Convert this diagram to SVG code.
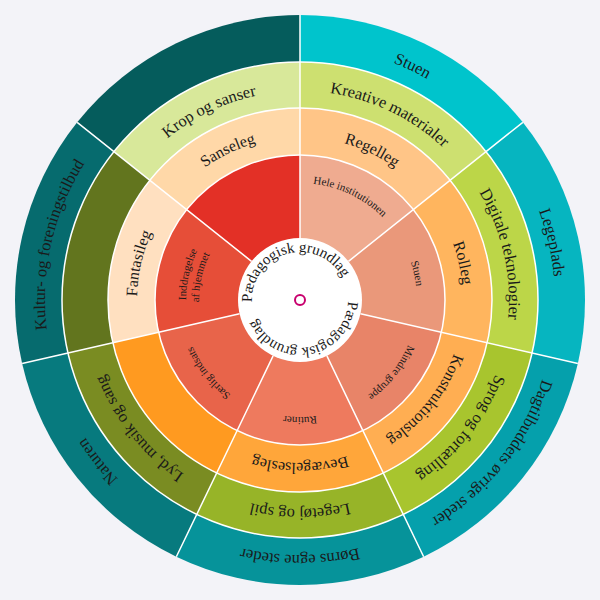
<svg xmlns="http://www.w3.org/2000/svg" xmlns:xlink="http://www.w3.org/1999/xlink" width="600" height="600" viewBox="0 0 600 600">
<style>
.t{font-family:"Liberation Serif","DejaVu Serif",serif;fill:#1a1a1a;text-anchor:middle}
.o{font-size:16.5px}.g{font-size:16.5px}.r{font-size:16px}.s{font-size:11px}.c{font-size:15px}
.sep{stroke:#fff;stroke-width:1.5;fill:none}
</style>
<defs>
<path id="c255" d="M300,45 A255,255 0 1 1 300,555 A255,255 0 1 1 300,45"/>
<path id="c209" d="M300,91 A209,209 0 1 1 300,509 A209,209 0 1 1 300,91"/>
<path id="c163" d="M300,137 A163,163 0 1 1 300,463 A163,163 0 1 1 300,137"/>
<path id="c117" d="M300,183 A117,117 0 1 1 300,417 A117,117 0 1 1 300,183"/>
<path id="c114" d="M300,186 A114,114 0 1 1 300,414 A114,114 0 1 1 300,186"/>
<path id="c101" d="M300,199 A101,101 0 1 1 300,401 A101,101 0 1 1 300,199"/>
<path id="c48" d="M252,300 A48,48 0 1 1 348,300 A48,48 0 1 1 252,300"/>
</defs>
<rect width="600" height="600" fill="#f3f3f8"/>
<g id="ring-outer">
<path d="M300,300 L300,15 A285,285 0 0 1 522.82,122.31Z" fill="#00c4cc"/>
<path d="M300,300 L522.82,122.31 A285,285 0 0 1 577.86,363.42Z" fill="#06b5c0"/>
<path d="M300,300 L577.86,363.42 A285,285 0 0 1 423.66,556.78Z" fill="#05a0ac"/>
<path d="M300,300 L423.66,556.78 A285,285 0 0 1 176.34,556.78Z" fill="#06939a"/>
<path d="M300,300 L176.34,556.78 A285,285 0 0 1 22.14,363.42Z" fill="#077a7e"/>
<path d="M300,300 L22.14,363.42 A285,285 0 0 1 77.18,122.31Z" fill="#066b6e"/>
<path d="M300,300 L77.18,122.31 A285,285 0 0 1 300,15Z" fill="#055c5c"/>
</g>
<g id="ring-green">
<path d="M300,300 L300,62 A238,238 0 0 1 486.08,151.61Z" fill="#cde070"/>
<path d="M300,300 L486.08,151.61 A238,238 0 0 1 532.03,352.96Z" fill="#bcd648"/>
<path d="M300,300 L532.03,352.96 A238,238 0 0 1 403.26,514.43Z" fill="#a8c52e"/>
<path d="M300,300 L403.26,514.43 A238,238 0 0 1 196.74,514.43Z" fill="#97b428"/>
<path d="M300,300 L196.74,514.43 A238,238 0 0 1 67.97,352.96Z" fill="#7a8c22"/>
<path d="M300,300 L67.97,352.96 A238,238 0 0 1 113.92,151.61Z" fill="#62751e"/>
<path d="M300,300 L113.92,151.61 A238,238 0 0 1 300,62Z" fill="#d8e89a"/>
</g>
<g id="ring-orange">
<path d="M300,300 L300,108 A192,192 0 0 1 450.11,180.29Z" fill="#ffc587"/>
<path d="M300,300 L450.11,180.29 A192,192 0 0 1 487.19,342.72Z" fill="#ffb55e"/>
<path d="M300,300 L487.19,342.72 A192,192 0 0 1 383.31,472.99Z" fill="#ffae52"/>
<path d="M300,300 L383.31,472.99 A192,192 0 0 1 216.69,472.99Z" fill="#ffa63a"/>
<path d="M300,300 L216.69,472.99 A192,192 0 0 1 112.81,342.72Z" fill="#ff9a20"/>
<path d="M300,300 L112.81,342.72 A192,192 0 0 1 149.89,180.29Z" fill="#ffe0c0"/>
<path d="M300,300 L149.89,180.29 A192,192 0 0 1 300,108Z" fill="#ffd8a8"/>
</g>
<g id="ring-red">
<path d="M300,300 L300,155 A145,145 0 0 1 413.37,209.59Z" fill="#efab90"/>
<path d="M300,300 L413.37,209.59 A145,145 0 0 1 441.36,332.27Z" fill="#ea987a"/>
<path d="M300,300 L441.36,332.27 A145,145 0 0 1 362.91,430.64Z" fill="#e88468"/>
<path d="M300,300 L362.91,430.64 A145,145 0 0 1 237.09,430.64Z" fill="#ee7a5e"/>
<path d="M300,300 L237.09,430.64 A145,145 0 0 1 158.64,332.27Z" fill="#e8644a"/>
<path d="M300,300 L158.64,332.27 A145,145 0 0 1 186.63,209.59Z" fill="#e64e38"/>
<path d="M300,300 L186.63,209.59 A145,145 0 0 1 300,155Z" fill="#e33026"/>
</g>
<g id="connectors">
<circle class="sep" cx="300" cy="300" r="238"/>
<circle class="sep" cx="300" cy="300" r="192"/>
<circle class="sep" cx="300" cy="300" r="145"/>
<path class="sep" d="M300,238 L300,15 M348.47,261.34 L522.82,122.31 M360.45,313.80 L577.86,363.42 M326.90,355.86 L423.66,556.78 M273.10,355.86 L176.34,556.78 M239.55,313.80 L22.14,363.42 M251.53,261.34 L77.18,122.31"/>
</g>
<g id="center">
<circle cx="300" cy="300" r="62" fill="#fff"/>
<circle cx="300" cy="300" r="5" fill="#fff" stroke="#c8006e" stroke-width="2"/>
<text class="t c"><textPath xlink:href="#c48" href="#c48" startOffset="20.8%">Pædagogisk grundlag</textPath></text>
<text class="t c"><textPath xlink:href="#c48" href="#c48" startOffset="72%">Pædagogisk grundlag</textPath></text>
</g>
<g id="labels-outer" class="t o">
<text><textPath href="#c255" startOffset="7.14%">Stuen</textPath></text>
<text><textPath href="#c255" startOffset="21.43%">Legeplads</textPath></text>
<text><textPath href="#c255" startOffset="35.71%">Dagtilbuddets øvrige steder</textPath></text>
<text><textPath href="#c255" startOffset="50%">Børns egne steder</textPath></text>
<text><textPath href="#c255" startOffset="64.29%">Naturen</textPath></text>
<text><textPath href="#c255" startOffset="78.57%">Kultur- og foreningstilbud</textPath></text>
</g>
<g id="labels-green" class="t g">
<text><textPath href="#c209" startOffset="7.14%">Kreative materialer</textPath></text>
<text><textPath href="#c209" startOffset="21.43%">Digitale teknologier</textPath></text>
<text><textPath href="#c209" startOffset="35.71%">Sprog og fortælling</textPath></text>
<text><textPath href="#c209" startOffset="50%">Legetøj og spil</textPath></text>
<text><textPath href="#c209" startOffset="64.29%">Lyd, musik og sang</textPath></text>
<text><textPath href="#c209" startOffset="92.86%">Krop og sanser</textPath></text>
</g>
<g id="labels-orange" class="t r">
<text><textPath href="#c163" startOffset="7.14%">Regelleg</textPath></text>
<text><textPath href="#c163" startOffset="21.43%">Rolleg</textPath></text>
<text><textPath href="#c163" startOffset="35.71%">Konstruktionsleg</textPath></text>
<text><textPath href="#c163" startOffset="50%">Bevægelsesleg</textPath></text>
<text><textPath href="#c163" startOffset="78.57%">Fantasileg</textPath></text>
<text><textPath href="#c163" startOffset="92.86%">Sanseleg</textPath></text>
</g>
<g id="labels-red" class="t s">
<text><textPath href="#c117" startOffset="7.14%">Hele institutionen</textPath></text>
<text><textPath href="#c117" startOffset="21.43%">Stuen</textPath></text>
<text><textPath href="#c117" startOffset="35.71%">Mindre gruppe</textPath></text>
<text><textPath href="#c117" startOffset="50%">Rutiner</textPath></text>
<text><textPath href="#c117" startOffset="64.29%">Særlig indsats</textPath></text>
<text><textPath href="#c114" startOffset="78.57%">Inddragelse</textPath></text>
<text><textPath href="#c101" startOffset="78.57%">af hjemmet</textPath></text>
</g>
</svg>
